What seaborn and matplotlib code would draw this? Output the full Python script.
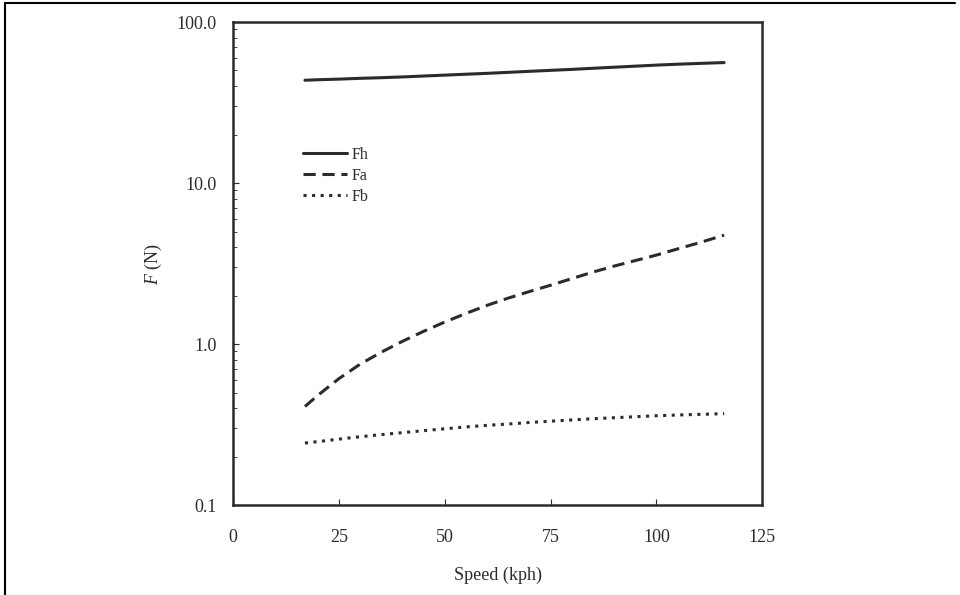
"""
Force components vs. speed on a log scale (Fh, Fa, Fb).
"""

import numpy as np
import pandas as pd
import seaborn as sns
import matplotlib.pyplot as plt
from matplotlib.lines import Line2D
from matplotlib.ticker import FixedLocator, LogLocator, NullFormatter

# values
speed = [17, 20, 25, 30, 35, 40, 45, 50, 55, 60, 65, 70, 75, 80, 85,
         90, 95, 100, 105, 110, 116]
fh = [43.5, 43.8, 44.2, 44.7, 45.1, 45.6, 46.2, 46.8, 47.4, 48.0, 48.7,
      49.4, 50.1, 50.8, 51.6, 52.4, 53.2, 54.0, 54.7, 55.3, 56.0]
fa = [0.41, 0.48, 0.61, 0.75, 0.89, 1.04, 1.20, 1.37, 1.55, 1.74, 1.93,
      2.12, 2.32, 2.55, 2.80, 3.05, 3.30, 3.57, 3.90, 4.25, 4.75]
fb = [0.243, 0.248, 0.257, 0.266, 0.274, 0.282, 0.290, 0.298, 0.306, 0.313,
      0.319, 0.326, 0.332, 0.338, 0.344, 0.349, 0.354, 0.359, 0.363, 0.366,
      0.370]

series_names = ["Fh", "Fa", "Fb"]
x_ticks = [0, 25, 50, 75, 100, 125]
y_ticks = [0.1, 1.0, 10.0, 100.0]
y_tick_labels = ["0.1", "1.0", "10.0", "100.0"]

df = pd.DataFrame({"speed": speed * 3,
                   "F": fh + fa + fb,
                   "series": np.repeat(series_names, len(speed))})

sns.set_style("ticks")
plt.rcParams['font.family'] = ['Liberation Serif', 'DejaVu Serif']
plt.rcParams['mathtext.fontset'] = 'custom'
plt.rcParams['mathtext.it'] = 'Liberation Serif:italic'
plt.rcParams['mathtext.rm'] = 'Liberation Serif'
plt.rcParams['xtick.direction'] = 'in'
plt.rcParams['ytick.direction'] = 'in'

ink = "#2b2b2b"

fig = plt.figure(figsize=(9.6, 5.95), dpi=100)
ax = fig.add_axes([0.2427, 0.151, 0.5513, 0.812])

styles = {"Fh": "-", "Fa": (0, (4, 2.2)), "Fb": (0, (1.0, 1.8))}
for name in series_names:
    sub = df[df["series"] == name]
    sns.lineplot(data=sub, x="speed", y="F", ax=ax, color=ink,
                 linewidth=2.2, linestyle=styles[name], label=name)

ax.set_yscale("log")
ax.set_xlim(0, 125)
ax.set_ylim(0.1, 100)
ax.xaxis.set_major_locator(FixedLocator(x_ticks))
ax.yaxis.set_major_locator(FixedLocator(y_ticks))
ax.set_yticklabels(y_tick_labels)
ax.yaxis.set_minor_locator(LogLocator(base=10, subs=np.arange(2, 10)))
ax.yaxis.set_minor_formatter(NullFormatter())
ax.tick_params(axis="both", labelsize=13, colors=ink, length=4)
ax.tick_params(axis="y", pad=12)
ax.tick_params(axis="y", which="minor", length=3)
ax.tick_params(axis="x", pad=17)

for s in ax.spines.values():
    s.set_linewidth(1.8)
    s.set_color(ink)

ax.set_xlabel("Speed (kph)", fontsize=13, color=ink, labelpad=15)
ax.set_ylabel(r"$\mathit{F}$ (N)", fontsize=13, color=ink, labelpad=9)

leg = ax.legend(loc="upper left", bbox_to_anchor=(0.106, 0.771), frameon=False,
                fontsize=11.5, handlelength=2.7, handletextpad=0.3,
                labelspacing=0.3)
for t in leg.get_texts():
    t.set_color(ink)

# thin frame remains at the top and left of the original scan
fig.add_artist(Line2D([0.0055, 0.0055], [0, 0.995], transform=fig.transFigure,
                      color="black", linewidth=1.5))
fig.add_artist(Line2D([0.0055, 0.995], [0.995, 0.995], transform=fig.transFigure,
                      color="black", linewidth=1.5))

fig.savefig("out.png", dpi=100, facecolor="white")
